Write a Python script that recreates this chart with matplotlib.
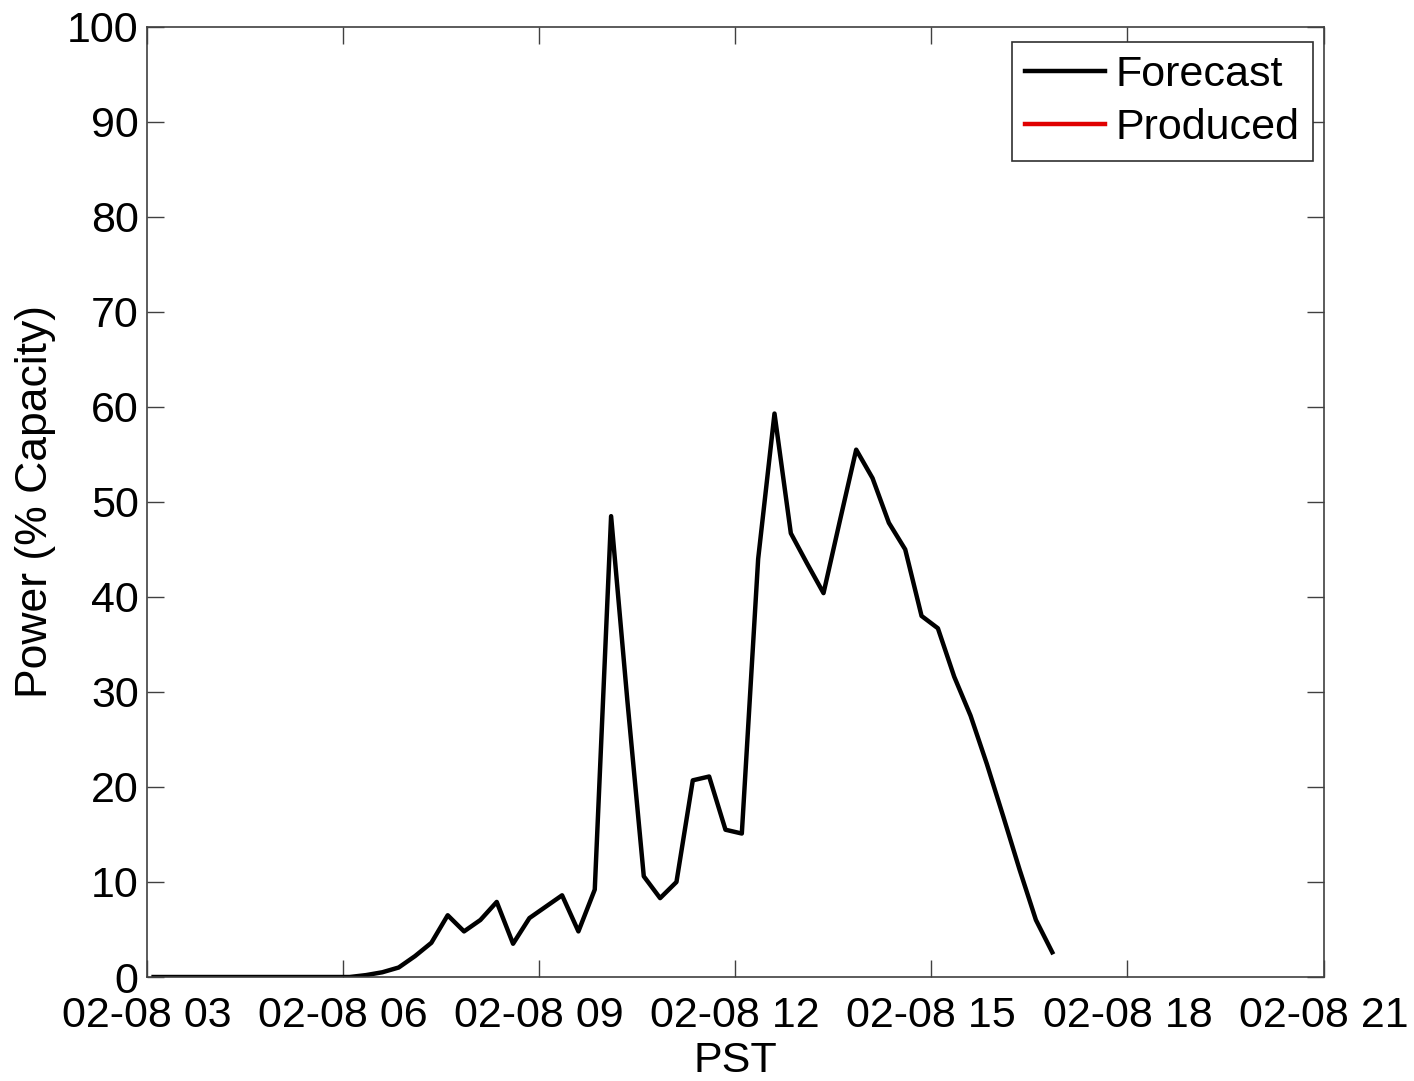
import numpy as np
import pandas as pd
import matplotlib
matplotlib.use('Agg')
import matplotlib.pyplot as plt
import matplotlib.dates as mdates

plt.rcParams['font.family'] = ['Liberation Sans', 'DejaVu Sans']

# forecast, every 15 min starting 02-08 03:06 (PST)
times = pd.date_range('2012-02-08 03:06', periods=56, freq='15min')
forecast = [0, 0, 0, 0, 0, 0, 0, 0, 0, 0, 0, 0,
            0.0, 0.2, 0.5, 1.0, 2.2, 3.6, 6.5, 4.8, 6.0, 7.9,
            3.5, 6.2, 7.4, 8.6, 4.8, 9.2, 48.5, 29.0, 10.6, 8.3,
            10.0, 20.7, 21.1, 15.5, 15.1, 44.0, 59.3, 46.7, 43.5, 40.4,
            48.0, 55.5, 52.5, 47.8, 45.0, 38.0, 36.7, 31.6, 27.5, 22.4,
            16.9, 11.3, 6.0, 2.6]
produced = []  # no produced data shown

xticks = pd.date_range('2012-02-08 03:00', '2012-02-08 21:00', freq='3h')
yticks = np.arange(0, 101, 10)

fig = plt.figure(figsize=(14.14, 10.81), dpi=100)
ax = fig.add_axes([0.104, 0.0962, 0.832, 0.879])

ax.plot(times, forecast, color='black', lw=3.2, label='Forecast')
ax.plot(times[:len(produced)], produced, color='#e00000', lw=3.2, label='Produced')

ax.set_xlim(xticks[0], xticks[-1])
ax.set_ylim(0, 100)
ax.set_xticks(xticks)
ax.xaxis.set_major_formatter(mdates.DateFormatter('%m-%d %H'))
ax.set_yticks(yticks)

ax.tick_params(direction='in', length=12, width=1, color='#404040',
               labelsize=31, top=True, right=True)
ax.tick_params(axis='x', pad=14)
ax.tick_params(axis='y', pad=6)
for s in ax.spines.values():
    s.set_color('#404040')
    s.set_linewidth(1.2)

ax.set_xlabel('PST', fontsize=31, labelpad=3)
ax.set_ylabel('Power (% Capacity)', fontsize=32, labelpad=8)

leg = ax.legend(loc='upper right', fontsize=31, fancybox=False,
                framealpha=1, edgecolor='#303030', borderpad=0.3,
                handlelength=1.85, handletextpad=0.25, labelspacing=0.3,
                borderaxespad=0, bbox_to_anchor=(0.9907, 0.9842))
leg.get_frame().set_linewidth(1.2)

fig.savefig('out.png', dpi=100, facecolor='white')
